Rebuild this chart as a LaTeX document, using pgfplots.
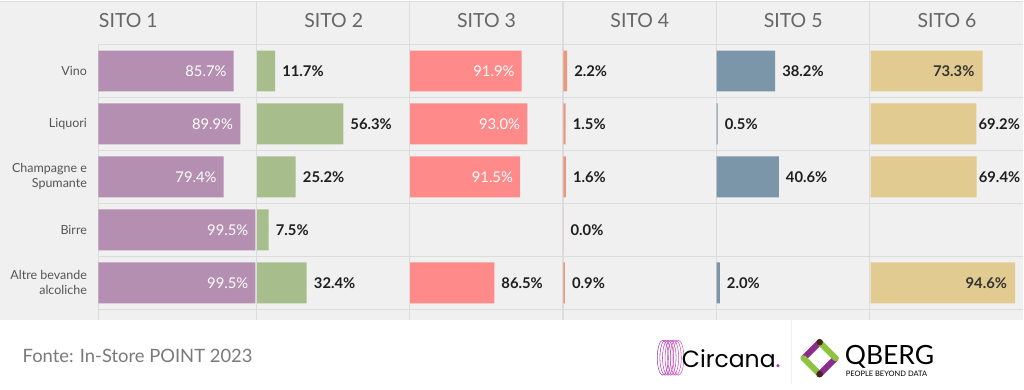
\documentclass[border=0pt]{standalone}
\usepackage{pgfplots}
\usepackage{pgfplotstable}
\pgfplotsset{compat=1.18}
\usepackage{fontspec}
\setmainfont{Lato}
\newfontfamily\poppins{Poppins}
\definecolor{bggray}{HTML}{F0F0F0}
\definecolor{gridc}{HTML}{DCDCDC}
\definecolor{cA}{HTML}{B48FB1}
\definecolor{cB}{HTML}{A7BE8C}
\definecolor{cC}{HTML}{FF8A8A}
\definecolor{cD}{HTML}{E79A7F}
\definecolor{cE}{HTML}{7B95A9}
\definecolor{cF}{HTML}{E2CB90}
\definecolor{rowtxt}{HTML}{555555}
\definecolor{hdrtxt}{HTML}{666666}
\definecolor{foottxt}{HTML}{7A7A7A}
\definecolor{lblout}{HTML}{1E1E1E}
\definecolor{lbldark}{HTML}{333333}
\definecolor{qpurple}{HTML}{8B2C8E}
\definecolor{qgreen}{HTML}{8CC43F}
\definecolor{qbrown}{HTML}{4B2321}
\definecolor{cpurple}{HTML}{9B2FAE}
\definecolor{cpink}{HTML}{E06BC8}

% row: 1 Vino, 2 Liquori, 3 Champagne e Spumante, 4 Birre, 5 Altre bevande alcoliche
% len = drawn bar length (% of panel), val = label
\pgfplotstableread{
row len val
1 85.7 85.7
2 89.9 89.9
3 79.4 79.4
4 99.5 99.5
5 99.5 99.5
}\sitoA
\pgfplotstableread{
row len val
1 11.7 11.7
2 56.3 56.3
3 25.2 25.2
4 7.5 7.5
5 32.4 32.4
}\sitoB
\pgfplotstableread{
row len val
1 73.0 91.9
2 76.7 93.0
3 72.0 91.5
5 55.1 86.5
}\sitoC
\pgfplotstableread{
row len val
1 2.4 2.2
2 1.5 1.5
3 1.6 1.6
4 0.0 0.0
5 1.0 0.9
}\sitoD
\pgfplotstableread{
row len val
1 38.2 38.2
2 0.6 0.5
3 40.6 40.6
5 2.0 2.0
}\sitoE
\pgfplotstableread{
row len val
1 73.3 73.3
2 69.2 69.2
3 69.4 69.4
5 94.6 94.6
}\sitoF

\pgfplotsset{
 panel/.style={scale only axis, width=#1, height=265pt, xmin=0, xmax=100,
   ymin=0.5, ymax=5.5, y dir=reverse, anchor=south west,
   axis line style={draw=none}, xtick=\empty, ytick=\empty, major tick length=0pt,
   clip=false,
   title style={at={(0.5,1)}, anchor=base, yshift=10.7pt,
     font=\fontsize{19.5}{19.5}\selectfont, text=hdrtxt, inner sep=0pt}},
 bars/.style={xbar, bar shift=0pt, bar width=41pt, fill=#1, draw=none},
 lbl/.style={only marks, mark=*, mark size=0pt, mark options={draw=none, fill=none},
   scatter/use mapped color={draw=none, fill=none},
   point meta=explicit symbolic, nodes near coords={\pgfplotspointmeta\%}},
 lin/.style={lbl, every node near coord/.append style={anchor=east, xshift=-7pt,
   text=white, font=\fontsize{14.8}{14.8}\selectfont, inner sep=0pt}},
 lindark/.style={lbl, every node near coord/.append style={anchor=east, xshift=-8pt,
   text=lbldark, font=\bfseries\fontsize{14.8}{14.8}\selectfont, inner sep=0pt}},
 lout/.style={lbl, every node near coord/.append style={anchor=west, xshift=#1,
   text=lblout, font=\bfseries\fontsize{14.8}{14.8}\selectfont, inner sep=0pt}},
 lout/.default=7pt,
}

\begin{document}
\begin{tikzpicture}[x=1pt,y=1pt]
% backgrounds
\fill[white] (0pt,0pt) rectangle (1024pt,389pt);
\fill[bggray] (0pt,69pt) rectangle (1024pt,389pt);
% grid lines
\foreach \yy in {44,97,150,203,256,309}
  \draw[gridc, line width=1.2pt] (98pt,{(389-\yy)*1pt}) -- (1024pt,{(389-\yy)*1pt});
\foreach \xx in {256.5,409.5,563,716.5,870}
  \draw[gridc, line width=1.2pt] (\xx pt,69pt) -- (\xx pt,389pt);
\draw[gridc, line width=1pt] (98pt,69pt) -- (98pt,345pt);
\draw[gridc, line width=1pt] (0pt,388.5pt) -- (1024pt,388.5pt);

% SITO 1
\begin{axis}[panel=158pt, at={(98pt,80pt)}, title={SITO 1},
  title style={at={(0.19,1)}},
  ytick={1,2,3,4,5},
  yticklabels={Vino,Liquori,{Champagne e\\Spumante},Birre,{Altre bevande\\alcoliche}},
  yticklabel style={align=right, font=\fontsize{12.5}{15}\selectfont, text=rowtxt, xshift=-8pt}]
\addplot[bars=cA] table[x=len, y=row] {\sitoA};
\addplot[lin] table[x=len, y=row, meta=val] {\sitoA};
\end{axis}

% SITO 2
\begin{axis}[panel=153pt, at={(257pt,80pt)}, title={SITO 2}]
\addplot[bars=cB] table[x=len, y=row] {\sitoB};
\addplot[lout] table[x=len, y=row, meta=val] {\sitoB};
\end{axis}

% SITO 3
\begin{axis}[panel=153pt, at={(410pt,80pt)}, title={SITO 3}]
\addplot[bars=cC] table[x=len, y=row] {\sitoC};
\addplot[lin, skip coords between index={3}{4}] table[x=len, y=row, meta=val] {\sitoC};
\addplot[lout, skip coords between index={0}{3}] table[x=len, y=row, meta=val] {\sitoC};
\end{axis}

% SITO 4
\begin{axis}[panel=153pt, at={(563.5pt,80pt)}, title={SITO 4}]
\addplot[bars=cD] table[x=len, y=row] {\sitoD};
\addplot[lout] table[x=len, y=row, meta=val] {\sitoD};
\end{axis}

% SITO 5
\begin{axis}[panel=153pt, at={(717pt,80pt)}, title={SITO 5}]
\addplot[bars=cE] table[x=len, y=row] {\sitoE};
\addplot[lout] table[x=len, y=row, meta=val] {\sitoE};
\end{axis}

% SITO 6
\begin{axis}[panel=153pt, at={(871pt,80pt)}, title={SITO 6}]
\addplot[bars=cF] table[x=len, y=row] {\sitoF};
\addplot[lindark, skip coords between index={1}{3}] table[x=len, y=row, meta=val] {\sitoF};
\addplot[lout=2pt, skip coords between index={0}{1}, skip coords between index={3}{4}] table[x=len, y=row, meta=val] {\sitoF};
\end{axis}

% footer
\node[anchor=base west, inner sep=0pt, text=foottxt, font=\fontsize{18.4}{18.4}\selectfont] at (22pt,27pt) {Fonte: In-Store POINT 2023};

% Circana logo
\foreach \i/\c in {0/80,1/70,2/60,3/50,4/40,5/30,6/20}
  \draw[cpurple!\c!cpink, line width=0.55pt] ({(663+\i*2.6)*1pt},31.5pt) ellipse (5.5pt and 17.5pt);
\node[anchor=base west, inner sep=0pt, font=\poppins\fontsize{23.5}{23.5}\selectfont] at (682pt,22pt) {Circana\textcolor{cpurple}{.}};

% divider
\draw[gray!12, line width=0.6pt] (792pt,5pt) -- (792pt,69pt);

% QBERG logo
\draw[qpurple, line width=6pt, line cap=round] (820pt,47pt) -- (804pt,31pt);
\draw[qgreen, line width=6pt, line cap=round] (804pt,31pt) -- (820pt,15pt);
\draw[qpurple, line width=6pt, line cap=round] (820pt,15pt) -- (836pt,31pt);
\draw[qgreen, line width=6pt, line cap=round] (836pt,31pt) -- (820pt,47pt);
\fill[qbrown] (820pt,47pt) circle (3.3pt);
\fill[qbrown] (820pt,15pt) circle (3.3pt);
\node[anchor=base west, inner sep=0pt, font=\fontsize{26.5}{26.5}\selectfont] at (845pt,24.5pt) {QBERG};
\node[anchor=base west, inner sep=0pt, font=\fontsize{7.5}{7.5}\selectfont] at (846pt,13pt) {PEOPLE BEYOND DATA};
\end{tikzpicture}
\end{document}
